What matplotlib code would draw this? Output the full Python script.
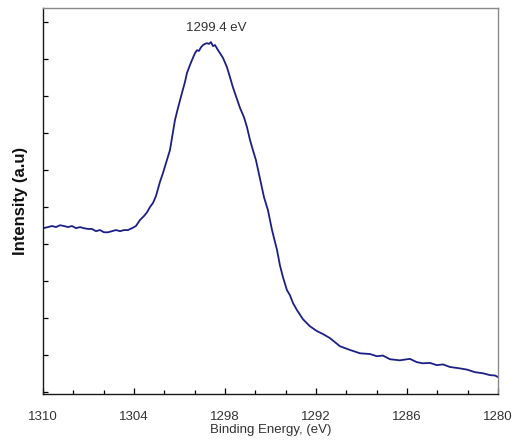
import matplotlib
matplotlib.use("Agg")
import matplotlib.pyplot as plt
from matplotlib.ticker import MultipleLocator, NullFormatter

plt.rcParams['font.family'] = ['Liberation Sans', 'DejaVu Sans']

binding_energy = [
    1310.00, 1309.67, 1309.41, 1309.14, 1308.88, 1308.62, 1308.35, 1308.09, 1307.82, 1307.56,
    1307.30, 1307.03, 1306.77, 1306.51, 1306.24, 1305.98, 1305.72, 1305.45, 1305.19, 1304.92,
    1304.66, 1304.40, 1304.13, 1303.87, 1303.61, 1303.34, 1303.14, 1302.95, 1302.75, 1302.55,
    1302.29, 1302.09, 1301.89, 1301.63, 1301.43, 1301.30, 1301.10, 1300.84, 1300.64, 1300.51,
    1300.31, 1300.18, 1299.98, 1299.85, 1299.72, 1299.58, 1299.45, 1299.32, 1299.19, 1299.06,
    1298.93, 1298.79, 1298.66, 1298.46, 1298.33, 1298.13, 1297.87, 1297.67, 1297.48, 1297.28,
    1297.01, 1296.75, 1296.55, 1296.35, 1296.16, 1295.96, 1295.70, 1295.43, 1295.17, 1294.90,
    1294.57, 1294.38, 1294.18, 1293.92, 1293.72, 1293.52, 1293.26, 1292.86, 1292.40, 1291.94,
    1291.54, 1291.08, 1290.42, 1289.76, 1289.10, 1288.44, 1287.98, 1287.59, 1287.13, 1286.47,
    1285.81, 1285.35, 1284.95, 1284.49, 1284.03, 1283.63, 1283.17, 1282.64, 1282.05, 1281.52,
    1280.99, 1280.53, 1280.20, 1280.01,
]
intensity = [
    4.43, 4.46, 4.49, 4.46, 4.51, 4.49, 4.46, 4.49, 4.43, 4.46,
    4.43, 4.41, 4.41, 4.35, 4.38, 4.32, 4.32, 4.35, 4.38, 4.35,
    4.38, 4.38, 4.43, 4.49, 4.65, 4.76, 4.86, 5.00, 5.11, 5.30,
    5.68, 5.92, 6.19, 6.54, 7.03, 7.35, 7.68, 8.08, 8.38, 8.62,
    8.84, 8.97, 9.16, 9.24, 9.22, 9.32, 9.38, 9.41, 9.43, 9.41,
    9.46, 9.35, 9.38, 9.24, 9.16, 9.03, 8.78, 8.51, 8.24, 8.00,
    7.68, 7.43, 7.16, 6.81, 6.54, 6.27, 5.78, 5.27, 4.92, 4.38,
    3.84, 3.43, 3.11, 2.76, 2.62, 2.41, 2.22, 1.97, 1.78, 1.65,
    1.57, 1.46, 1.24, 1.14, 1.05, 1.03, 0.97, 0.99, 0.89, 0.86,
    0.90, 0.81, 0.78, 0.79, 0.73, 0.75, 0.68, 0.65, 0.61, 0.54,
    0.51, 0.46, 0.45, 0.41,
]
x_ticks = [1310, 1304, 1298, 1292, 1286, 1280]
peak_label = "1299.4 eV"
peak_pos = (1298.6, 9.85)

fig = plt.figure(figsize=(5.13, 4.43), dpi=100)
ax = fig.add_axes([0.0838, 0.1106, 0.887, 0.8713])
ax.plot(binding_energy, intensity, color='#1c1f86', lw=1.3)

ax.set_xlim(1310, 1280)
ax.set_ylim(-0.05, 10.38)
ax.set_xticks(x_ticks)
ax.set_xticklabels([str(t) for t in x_ticks])
ax.xaxis.set_minor_locator(MultipleLocator(2))
ax.yaxis.set_major_locator(MultipleLocator(1))
ax.yaxis.set_major_formatter(NullFormatter())
ax.tick_params(axis='x', which='major', direction='in', length=4.3, width=0.9,
               labelsize=9.5, labelcolor='#333333', pad=12)
ax.tick_params(axis='x', which='minor', direction='in', length=2.8, width=0.9)
ax.tick_params(axis='y', which='major', direction='in', length=3.6, width=0.9)
for s in ['top', 'right']:
    ax.spines[s].set_color('#8a8a8a')
    ax.spines[s].set_linewidth(1.0)
for s in ['bottom', 'left']:
    ax.spines[s].set_color('#1a1a1a')
    ax.spines[s].set_linewidth(1.0)

ax.set_xlabel("Binding Energy, (eV)", fontsize=9.5, color='#333333', labelpad=1)
ax.set_ylabel("Intensity (a.u)", fontsize=12, fontweight='bold', color='#111111', labelpad=7)
ax.text(peak_pos[0], peak_pos[1], peak_label, fontsize=9.5, color='#333333',
        ha='center', va='center')

fig.savefig("out.png", dpi=100)
